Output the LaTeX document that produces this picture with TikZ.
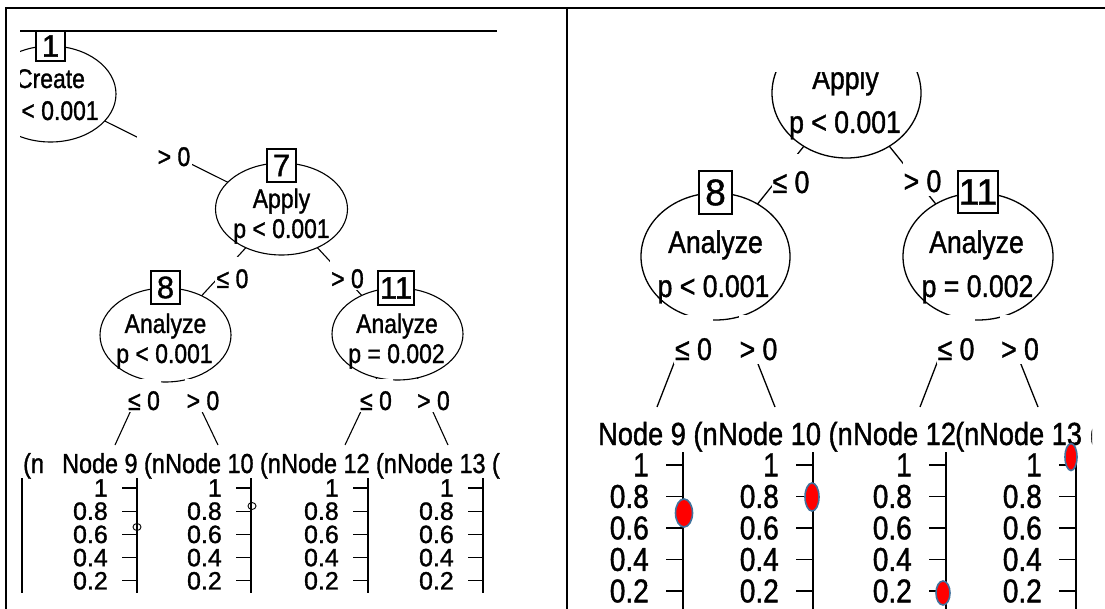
\documentclass[tikz,border=0pt]{standalone}
\usepackage{fontspec}
\setmainfont{Liberation Sans}[FakeBold=1.2]
\newfontfamily\rf[FakeStretch=0.85,FakeBold=1.2]{Liberation Sans}
\newfontfamily\nf[FakeBold=1.2]{Liberation Sans}
\usetikzlibrary{shapes.geometric}
\newcommand\fL{\rf\fontsize{27}{27}\selectfont}
\newcommand\fLh{\rf\fontsize{27.5}{27.5}\selectfont}
\newcommand\fLt{\nf\fontsize{25}{25}\selectfont}
\newcommand\fLb{\nf\fontsize{31}{31}\selectfont}
\newcommand\fR{\rf\fontsize{31.3}{31.3}\selectfont}
\newcommand\fRh{\rf\fontsize{32}{32}\selectfont}
\newcommand\fRt{\rf\fontsize{33}{33}\selectfont}
\newcommand\fRb{\nf\fontsize{37}{37}\selectfont}
\begin{document}
\begin{tikzpicture}[x=1pt,y=-1pt,
  ell/.style={ellipse,draw,line width=1.1pt,fill=white,inner sep=0pt,outer sep=0pt},
  ellr/.style={ell,line width=1.3pt},
  nbox/.style={draw,fill=white,line width=1.1pt,inner sep=0pt,outer sep=0pt},
  txt/.style={inner sep=0pt,anchor=base},
  conn/.style={line width=1.1pt},
  connr/.style={line width=1.3pt},
  elab/.style={fill=white,inner xsep=1.5pt,inner ysep=0pt,anchor=base,text height=31pt,text depth=2pt},
  elabr/.style={fill=white,inner xsep=1pt,inner ysep=0pt,anchor=base,text depth=4pt},
  hdr/.style={fill=white,inner sep=0pt,anchor=base west},
  axl/.style={line width=1.3pt},
  axr/.style={line width=1.6pt},
  pt/.style={fill=red,draw={rgb,255:red,65;green,113;blue,156},line width=1.6pt}
]
\useasboundingbox (0,0) rectangle (1105,609);

% cell borders
\draw[line width=2.5pt] (5,8) -- (1105,8);
\draw[line width=2.2pt] (6,8) -- (6,609);
\draw[line width=2.5pt] (567,8) -- (567,609);

% ================= LEFT PANEL =================
\begin{scope}
\clip (20,30) rectangle (500,595);
\draw[line width=1.2pt] (20,31) -- (497,31);

\node[ell,minimum width=131pt,minimum height=96pt] (n1) at (50.5,94) {};
\node[ell,minimum width=132pt,minimum height=92pt] (n7) at (281.5,209) {};
\node[ell,minimum width=131pt,minimum height=94pt] (n8) at (165.5,335) {};
\node[ell,minimum width=131pt,minimum height=92pt] (n11) at (397.5,334) {};

\node[txt] (n1a) at (50.5,88) {\fL Create};
\node[txt] (n1b) at (50.5,120) {\fL p < 0.001};
\node[txt] (n7a) at (281.5,208) {\fL Apply};
\node[txt] (n7b) at (281.5,238) {\fL p < 0.001};
\node[txt] (n8a) at (165.5,333) {\fL Analyze};
\node[txt] (n8b) at (164.5,363) {\fL p < 0.001};
\node[txt] (n11a) at (397,333) {\fL Analyze};
\node[txt] (n11b) at (396.5,363) {\fL p = 0.002};

\node[nbox,minimum width=29pt,minimum height=30pt] (b1) at (50.5,46) {\fLb 1};
\node[nbox,minimum width=29pt,minimum height=33pt] (b7) at (281.5,165.5) {\fLb 7};
\node[nbox,minimum width=29pt,minimum height=33pt] (b8) at (165.5,287.5) {\fLb 8};
\node[nbox,minimum width=36pt,minimum height=34pt] (b11) at (396,288) {\fLb 11};

\coordinate (t9) at (115,445);
\coordinate (t10) at (218,445);
\coordinate (t12) at (345,445);
\coordinate (t13) at (448,445);

\draw[conn] (n1) -- (n7);
\draw[conn] (n7) -- (n8);
\draw[conn] (n7) -- (n11);
\draw[conn] (n8) -- (t9);
\draw[conn] (n8) -- (t10);
\draw[conn] (n11) -- (t12);
\draw[conn] (n11) -- (t13);

\node[elab,anchor=base east] (l17) at (192,166) {\fL\hspace*{19pt}> 0};
\node[elab] (l78) at (232.5,288) {\fL ≤ 0};
\node[elab] (l711) at (347.5,288) {\fL > 0};
\node[elab] (l89) at (144,410) {\fL ≤ 0};
\node[elab] (l810) at (203,410) {\fL > 0};
\node[elab] (l1112) at (376,410) {\fL ≤ 0};
\node[elab] (l1113) at (433.5,410) {\fL > 0};

\node[hdr] (h6) at (23,473) {\fLh (n};
\node[hdr] (h9) at (62,473) {\fLh Node 9 (n};
\node[hdr] (h10) at (165,473) {\fLh Node 10 (n};
\node[hdr] (h12) at (281,473) {\fLh Node 12 (n};
\node[hdr] (h13) at (397,473) {\fLh Node 13 (n};

\draw[axl] (22,478) -- (22,593);
\foreach \A [count=\k] in {137,251,368,483} {
  \draw[axl] (\A,478) -- (\A,593);
  \foreach \v [count=\j] in {1,0.8,0.6,0.4,0.2} {
    \pgfmathsetmacro\yy{488+116*(1-\v)}
    \draw[axl] (\A-15,\yy) -- (\A,\yy);
    \node[anchor=east,inner sep=0pt] (tl\k-\j) at (\A-29,\yy) {\fLt \v};
  }
}
\draw[line width=0.9pt] (137,527) ellipse [x radius=4pt,y radius=3.5pt];
\draw[line width=0.9pt] (252,506) ellipse [x radius=4pt,y radius=3.5pt];
\end{scope}

% ================= RIGHT PANEL =================
\begin{scope}
\clip (569,73) rectangle (1092,609);

\node[ellr,minimum width=149pt,minimum height=130pt] (r7) at (846.5,93) {};
\node[ellr,minimum width=149pt,minimum height=127pt] (r8) at (715.5,256.5) {};
\node[ellr,minimum width=150pt,minimum height=127pt] (r11) at (978,256.5) {};

\node[txt] (r7a) at (845.5,89) {\fR Apply};
\node[txt] (r7b) at (845,133) {\fR p < 0.001};
\node[txt] (r8a) at (715.5,253) {\fR Analyze};
\node[txt] (r8b) at (713.5,297) {\fR p < 0.001};
\node[txt] (r11a) at (976.5,253) {\fR Analyze};
\node[txt] (r11b) at (977.5,297) {\fR p = 0.002};

\node[nbox,line width=1.3pt,minimum width=33pt,minimum height=43pt] (rb8) at (715.5,192.5) {\fRb 8};
\node[nbox,line width=1.3pt,minimum width=40pt,minimum height=42pt] (rb11) at (978,192) {\fRb 11};

\coordinate (s9) at (657,407);
\coordinate (s10) at (775,407);
\coordinate (s12) at (920,407);
\coordinate (s13) at (1038,407);

\draw[connr] (r7) -- (r8);
\draw[connr] (r7) -- (r11);
\draw[connr] (r8) -- (s9);
\draw[connr] (r8) -- (s10);
\draw[connr] (r11) -- (s12);
\draw[connr] (r11) -- (s13);

\node[elabr,text height=39pt] (q78) at (791,193) {\fR ≤ 0};
\node[elabr,text height=39pt] (q711) at (922.5,192) {\fR > 0};
\node[elabr,text height=44.5pt] (q89) at (693.5,360) {\fR ≤ 0};
\node[elabr,text height=44.5pt] (q810) at (758.5,360) {\fR > 0};
\node[elabr,text height=44.5pt] (q1112) at (956,360) {\fR ≤ 0};
\node[elabr,text height=44.5pt] (q1113) at (1020,360) {\fR > 0};

\node[hdr] (g9) at (598,445) {\fRh Node 9 (n};
\node[hdr] (g10) at (718,445) {\fRh Node 10 (n};
\node[hdr] (g12) at (853,445) {\fRh Node 12\hspace{-8.5pt} (n};
\node[hdr] (g13) at (979,445) {\fRh Node 13 (n};

\foreach \A [count=\k] in {683,813,946,1076} {
  \draw[axr] (\A,452) -- (\A,612);
  \foreach \v [count=\j] in {1,0.8,0.6,0.4,0.2} {
    \pgfmathsetmacro\yy{465+157.5*(1-\v)}
    \draw[axr] (\A-17,\yy) -- (\A,\yy);
    \node[anchor=east,inner sep=0pt] (tr\k-\j) at (\A-34,\yy) {\fRt \v};
  }
}
\draw[pt] (684,513) ellipse [x radius=8.5pt,y radius=14pt];
\draw[pt] (812,497) ellipse [x radius=7pt,y radius=14pt];
\draw[pt] (943,593) ellipse [x radius=7pt,y radius=12pt];
\draw[pt] (1071,457) ellipse [x radius=6pt,y radius=13.5pt];
\end{scope}
\end{tikzpicture}
\end{document}
